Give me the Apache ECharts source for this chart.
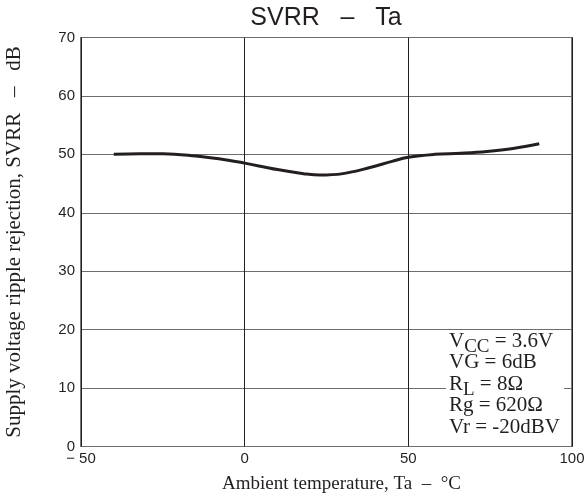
<!DOCTYPE html>
<html><head><meta charset="utf-8">
<script src="https://cdn.jsdelivr.net/npm/echarts@6/dist/echarts.min.js"></script>
<style>html,body{margin:0;padding:0;background:#fff}#c{width:586px;height:497px}</style>
</head><body><div id="c"></div>
<script>
var temps = [-40, -32, -25, -15, -5, 0, 10, 18, 23, 30, 38, 45, 50, 58, 66, 74, 82, 90];
var svrr  = [50.0, 50.1, 50.1, 49.7, 49.0, 48.5, 47.4, 46.7, 46.45, 46.7, 47.7, 48.8, 49.5, 50.0, 50.2, 50.5, 51.0, 51.8];
var xTicks = [-50, 0, 50, 100];
var yTicks = [0, 10, 20, 30, 40, 50, 60, 70];
var titleText = 'SVRR   \u2013   Ta';
var xName = 'Ambient temperature, Ta  \u2013  \u00B0C';
var yName = 'Supply voltage ripple rejection, SVRR   \u2013   dB';

var chart = echarts.init(document.getElementById('c'));
chart.setOption({
  animation: false,
  backgroundColor: '#fff',
  grid: { left: 81, right: 14, top: 37.5, bottom: 50.5, show: true, borderColor: '#231f20', borderWidth: 1.2,
    outerBoundsMode: 'none', containLabel: false },
  xAxis: {
    type: 'value', min: -50, max: 100, interval: 50,
    name: xName, nameLocation: 'middle', nameGap: 28,
    nameTextStyle: { fontFamily: 'Liberation Serif', fontSize: 19, color: '#231f20', padding: [0, 0, 0, 30] },
    axisLine: { show: false }, axisTick: { show: false },
    axisLabel: { fontFamily: 'Liberation Sans', fontSize: 15, color: '#231f20', margin: 5,
      formatter: function (v) { return v < 0 ? '\u2212 ' + Math.abs(v) : String(v); } },
    splitLine: { show: true, lineStyle: { color: '#231f20', width: 1 } }
  },
  yAxis: {
    type: 'value', min: 0, max: 70, interval: 10,
    name: yName, nameLocation: 'middle', nameGap: 56, nameRotate: 90,
    nameTextStyle: { fontFamily: 'Liberation Serif', fontSize: 21, color: '#231f20' },
    axisLine: { show: false }, axisTick: { show: false },
    axisLabel: { fontFamily: 'Liberation Sans', fontSize: 15, color: '#231f20', margin: 6 },
    splitLine: { show: true, lineStyle: { color: '#6d6d6d', width: 1 } }
  },
  series: [{
    type: 'line', data: temps.map(function (t, i) { return [t, svrr[i]]; }),
    smooth: 0.4, showSymbol: false,
    lineStyle: { color: '#231f20', width: 3 }
  }],
  graphic: [{
    type: 'text', x: 326, y: 18, z: 100,
    style: { text: titleText, textAlign: 'center', textVerticalAlign: 'middle',
      fontFamily: 'Liberation Sans', fontSize: 25, fill: '#231f20' }
  }, {
    type: 'text', left: 446, top: 330, z: 100,
    style: {
      text: '{m|V}{s|CC}{m| = 3.6V}\n{m|VG = 6dB}\n{m|R}{s|L}{m| = 8\u03A9}\n{m|Rg = 620\u03A9}\n{m|Vr = -20dBV}',
      backgroundColor: '#fff', padding: [0, 4, 0, 3],
      rich: {
        m: { fontFamily: 'Liberation Serif', fontSize: 21, lineHeight: 21.5, fill: '#231f20', verticalAlign: 'bottom' },
        s: { fontFamily: 'Liberation Serif', fontSize: 19, lineHeight: 21.5, fill: '#231f20', verticalAlign: 'bottom', padding: [0, 0, -5, 0] }
      }
    }
  }]
});
</script></body></html>
